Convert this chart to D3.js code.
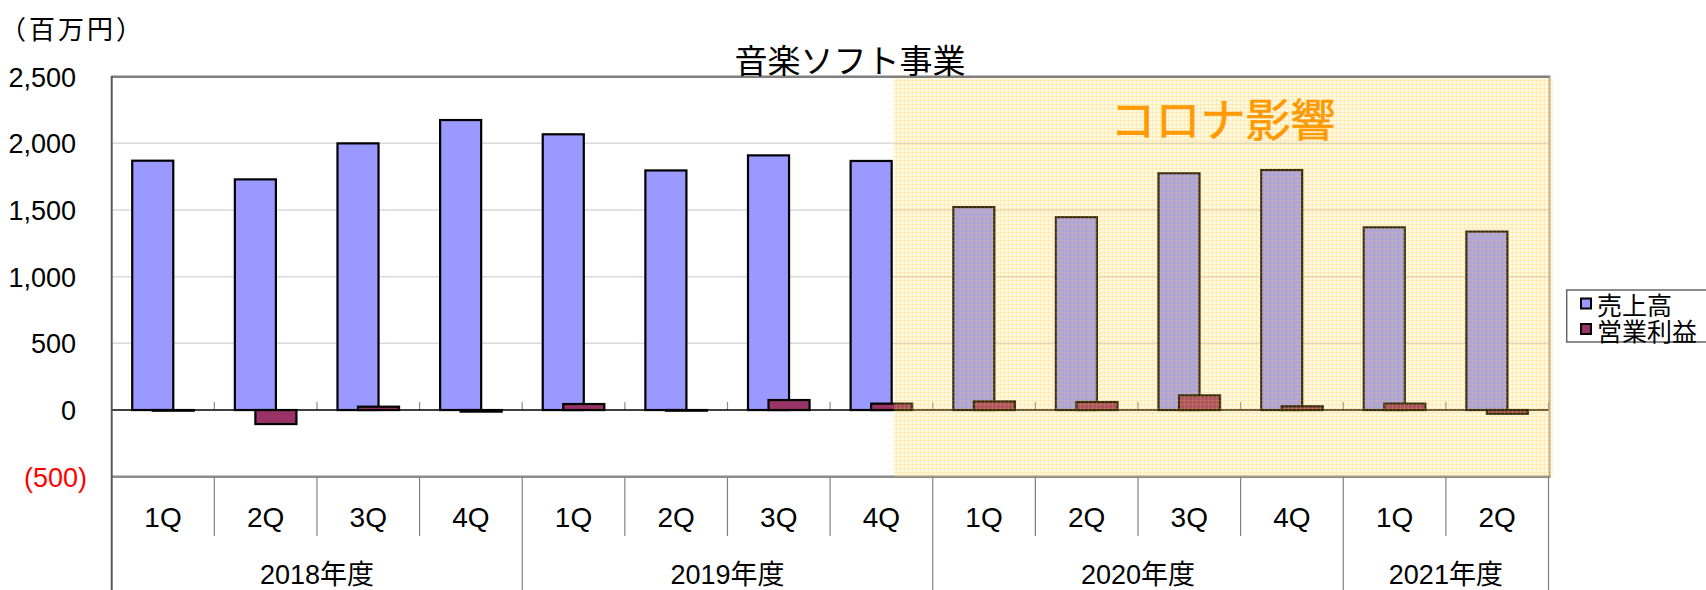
<!DOCTYPE html>
<html>
<head>
<meta charset="utf-8">
<script src="https://cdn.jsdelivr.net/npm/d3@7/dist/d3.min.js"></script>
<style>
  html, body { margin: 0; padding: 0; background: #fff; }
  svg { display: block; }
</style>
</head>
<body>
<svg id="chart" width="1706" height="590"></svg>
<script>
// ---- data ----
const quarters = ["1Q","2Q","3Q","4Q","1Q","2Q","3Q","4Q","1Q","2Q","3Q","4Q","1Q","2Q"];
const years = ["2018年度","2019年度","2020年度","2021年度"];
const yearCounts = [4, 4, 4, 2];
const sales = [1870, 1730, 2000, 2175, 2068, 1797, 1910, 1868, 1522, 1447, 1776, 1800, 1370, 1338];
const profit = [-5, -105, 25, -12, 45, -5, 75, 48, 65, 60, 110, 28, 48, -28];
const seriesNames = ["売上高", "営業利益"];
const yTicks = [-500, 0, 500, 1000, 1500, 2000, 2500];
const title = "音楽ソフト事業";
const unitLabel = "（百万円）";
const coronaLabel = "コロナ影響";
const coronaStart = 7.62; // category position where the shaded region starts

(function () {
const LAT = "'Liberation Sans', Arial, 'Noto Sans CJK JP', sans-serif";
const JP = "'Noto Sans CJK JP', sans-serif";

const svg = d3.select("#chart");
const pLeft = 111.7, pRight = 1548.5, pTop = 76.7, pBottom = 476.7;

const x = d3.scaleBand().domain(d3.range(quarters.length)).range([pLeft, pRight]).paddingInner(0).paddingOuter(0);
const y = d3.scaleLinear().domain([-500, 2500]).range([pBottom, pTop]);
const bw = x.bandwidth();

// pattern for corona overlay
const defs = svg.append("defs");
const pat = defs.append("pattern").attr("id", "chk").attr("patternUnits", "userSpaceOnUse")
  .attr("width", 4).attr("height", 4);
pat.append("rect").attr("width", 4).attr("height", 4).attr("fill", "rgba(255,215,90,0.20)");
pat.append("rect").attr("x", 0).attr("y", 0).attr("width", 4).attr("height", 1).attr("fill", "rgba(255,190,40,0.18)");
pat.append("rect").attr("x", 0).attr("y", 0).attr("width", 1).attr("height", 4).attr("fill", "rgba(255,190,40,0.18)");

// gridlines
svg.append("g").selectAll("line").data(yTicks.filter(t => t > 0 && t < 2500)).join("line")
  .attr("x1", pLeft).attr("x2", pRight).attr("y1", d => y(d)).attr("y2", d => y(d))
  .attr("stroke", "#d9d9d9").attr("stroke-width", 1.5);

// plot border
svg.append("line").attr("x1", pLeft).attr("x2", pRight + 2).attr("y1", pTop).attr("y2", pTop).attr("stroke", "#7f7f7f").attr("stroke-width", 2.5);
svg.append("line").attr("x1", pRight + 1).attr("x2", pRight + 1).attr("y1", pTop).attr("y2", pBottom).attr("stroke", "#a6a6a6").attr("stroke-width", 2);
svg.append("line").attr("x1", pLeft).attr("x2", pRight + 2).attr("y1", pBottom).attr("y2", pBottom).attr("stroke", "#8c8c8c").attr("stroke-width", 2.5);

// category tick marks at zero line (pointing up)
svg.append("g").selectAll("line").data(d3.range(1, quarters.length + 1)).join("line")
  .attr("x1", i => pLeft + i * bw).attr("x2", i => pLeft + i * bw)
  .attr("y1", y(0) - 8).attr("y2", y(0))
  .attr("stroke", "#8c8c8c").attr("stroke-width", 1.2);

// bars
svg.append("g").selectAll("rect").data(sales).join("rect")
  .attr("x", (d, i) => x(i) + bw * 0.2)
  .attr("width", bw * 0.4)
  .attr("y", d => y(Math.max(0, d)))
  .attr("height", d => Math.abs(y(d) - y(0)))
  .attr("fill", "#9999ff").attr("stroke", "#000").attr("stroke-width", 2.2);

svg.append("g").selectAll("rect").data(profit).join("rect")
  .attr("x", (d, i) => x(i) + bw * 0.4)
  .attr("width", bw * 0.4)
  .attr("y", d => y(Math.max(0, d)))
  .attr("height", d => Math.max(0.5, Math.abs(y(d) - y(0))))
  .attr("fill", "#993366").attr("stroke", "#000").attr("stroke-width", 2.2);

// zero axis
svg.append("line").attr("x1", pLeft).attr("x2", pRight).attr("y1", y(0)).attr("y2", y(0))
  .attr("stroke", "#000").attr("stroke-width", 1.5);

// left axis line (extends down through category labels)
svg.append("line").attr("x1", pLeft).attr("x2", pLeft).attr("y1", pTop - 1).attr("y2", 590)
  .attr("stroke", "#595959").attr("stroke-width", 2);

// corona overlay
svg.append("rect")
  .attr("x", pLeft + coronaStart * bw).attr("y", pTop + 1.5)
  .attr("width", pRight + 4 - (pLeft + coronaStart * bw)).attr("height", pBottom - pTop - 1.5)
  .attr("fill", "url(#chk)");

svg.append("text").attr("x", 1223).attr("y", 117)
  .attr("text-anchor", "middle").attr("dominant-baseline", "central")
  .attr("font-family", JP).attr("font-size", 45).attr("fill", "#ff9900")
  .attr("stroke", "#ff9900").attr("stroke-width", 0.6)
  .text(coronaLabel);

// y tick labels
svg.append("g").selectAll("text").data(yTicks).join("text")
  .attr("x", d => d < 0 ? 87 : 76)
  .attr("y", d => y(d) + 1)
  .attr("text-anchor", "end").attr("dominant-baseline", "central")
  .attr("font-family", LAT).attr("font-size", 27)
  .attr("fill", d => d < 0 ? "#ff0000" : "#000")
  .text(d => d < 0 ? "(" + d3.format(",")(-d) + ")" : d3.format(",")(d));

// category separators below plot
const yearBoundaries = [0];
yearCounts.forEach((c, i) => yearBoundaries.push(yearBoundaries[i] + c));
svg.append("g").selectAll("line").data(d3.range(1, quarters.length + 1)).join("line")
  .attr("x1", i => pLeft + i * bw).attr("x2", i => pLeft + i * bw)
  .attr("y1", pBottom).attr("y2", i => yearBoundaries.includes(i) ? 590 : 536)
  .attr("stroke", "#808080").attr("stroke-width", 1.2);

// quarter labels
svg.append("g").selectAll("text").data(quarters).join("text")
  .attr("x", (d, i) => x(i) + bw / 2).attr("y", 517)
  .attr("text-anchor", "middle").attr("dominant-baseline", "central")
  .attr("font-family", LAT).attr("font-size", 28).attr("fill", "#000")
  .text(d => d);

// year labels
svg.append("g").selectAll("text").data(years).join("text")
  .attr("x", (d, i) => pLeft + (yearBoundaries[i] + yearBoundaries[i + 1]) / 2 * bw)
  .attr("y", 575)
  .attr("text-anchor", "middle").attr("dominant-baseline", "central")
  .attr("font-family", LAT).attr("font-size", 27).attr("fill", "#000")
  .text(d => d);

// title and unit
svg.append("text").attr("x", 850).attr("y", 59)
  .attr("text-anchor", "middle").attr("dominant-baseline", "central")
  .attr("font-family", JP).attr("font-size", 33).attr("fill", "#000")
  .text(title);

svg.append("text").attr("x", 0).attr("y", 27)
  .attr("dominant-baseline", "central")
  .attr("font-family", JP).attr("font-size", 26).attr("fill", "#000")
  .attr("letter-spacing", 3)
  .text(unitLabel);

// legend
const lg = svg.append("g");
lg.append("rect").attr("x", 1566.7).attr("y", 290).attr("width", 160).attr("height", 52)
  .attr("fill", "#fff").attr("stroke", "#666").attr("stroke-width", 1.5);
const legendColors = ["#9999ff", "#993366"];
seriesNames.forEach((n, i) => {
  lg.append("rect").attr("x", 1581).attr("y", 298.5 + i * 25.5).attr("width", 10).attr("height", 10)
    .attr("fill", legendColors[i]).attr("stroke", "#000").attr("stroke-width", 2);
  lg.append("text").attr("x", 1597).attr("y", 304 + i * 25.5)
    .attr("dominant-baseline", "central")
    .attr("font-family", JP).attr("font-size", 25).attr("fill", "#000")
    .text(n);
});
})();
</script>
</body>
</html>
